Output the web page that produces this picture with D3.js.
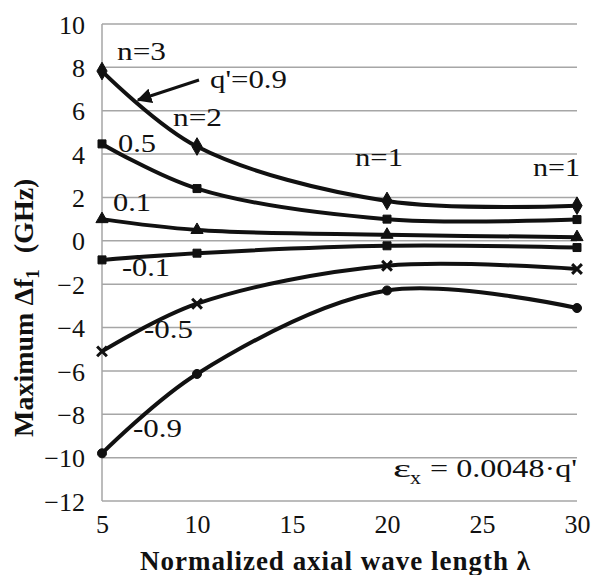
<!DOCTYPE html>
<html><head><meta charset="utf-8">
<script src="https://cdn.jsdelivr.net/npm/d3@7"></script>
<style>body{margin:0;background:#fff}svg{display:block}</style>
</head><body>
<svg id="c" width="593" height="575"></svg>
<script>
const xValues = [5, 10, 20, 30];
const q09 = [7.83, 4.35, 1.84, 1.62];
const q05 = [4.47, 2.41, 1.0, 0.98];
const q01 = [1.0, 0.5, 0.28, 0.17];
const qm01 = [-0.88, -0.57, -0.23, -0.31];
const qm05 = [-5.1, -2.9, -1.15, -1.3];
const qm09 = [-9.8, -6.14, -2.29, -3.1];
const seriesNames = ["0.9", "0.5", "0.1", "-0.1", "-0.5", "-0.9"];
const seriesMarkers = ["diamond", "square", "triangle", "square", "cross", "circle"];
const xTicks = [5, 10, 15, 20, 25, 30];
const yTicks = [-12, -10, -8, -6, -4, -2, 0, 2, 4, 6, 8, 10];

const series = [q09, q05, q01, qm01, qm05, qm09];
const svg = d3.select("#c");
const L = 102, R = 577, T = 24, B = 501;
const x = d3.scaleLinear().domain([5, 30]).range([L, R]);
const y = d3.scaleLinear().domain([-12, 10]).range([B, T]);
const serif = "Liberation Serif";

// grid
svg.append("g").selectAll("line").data(yTicks).join("line")
  .attr("x1", L).attr("x2", R).attr("y1", d => y(d)).attr("y2", d => y(d))
  .attr("stroke", "#a6a6a6").attr("stroke-width", 1.5);
svg.append("line").attr("x1", L).attr("x2", L).attr("y1", T).attr("y2", B)
  .attr("stroke", "#a6a6a6").attr("stroke-width", 1.5);

// axes
const yAxis = d3.axisLeft(y).tickValues(yTicks).tickSize(0).tickPadding(17)
  .tickFormat(d => d < 0 ? "\u2212" + Math.abs(d) : String(d));
const gy = svg.append("g").attr("transform", `translate(${L},0)`).call(yAxis);
gy.attr("font-family", serif).attr("font-size", 26);
gy.select(".domain").remove();
gy.selectAll("text").attr("fill", "#111").attr("dy", "0.35em");

const xAxis = d3.axisBottom(x).tickValues(xTicks).tickSize(0).tickPadding(14);
const gx = svg.append("g").attr("transform", `translate(0,${B})`).call(xAxis);
gx.attr("font-family", serif).attr("font-size", 26);
gx.select(".domain").remove();
gx.selectAll("text").attr("fill", "#111");

// lines
const line = d3.line().x(d => x(d[0])).y(d => y(d[1])).curve(d3.curveCatmullRom.alpha(0.5));
series.forEach((s, i) => {
  const pts = xValues.map((xv, j) => [xv, s[j]]);
  svg.append("path").attr("d", line(pts)).attr("fill", "none")
    .attr("stroke", "#111").attr("stroke-width", 4);
  const symType = {diamond: d3.symbolDiamond, square: d3.symbolSquare, triangle: d3.symbolTriangle,
                   cross: d3.symbolX, circle: d3.symbolCircle}[seriesMarkers[i]];
  const sz = seriesMarkers[i] === "diamond" ? 90 : 64;
  svg.append("g").selectAll("path").data(pts).join("path")
    .attr("transform", d => `translate(${x(d[0])},${y(d[1])})`)
    .attr("d", d3.symbol().type(symType).size(sz))
    .attr("fill", "#111").attr("stroke", "#111").attr("stroke-width", seriesMarkers[i] === "cross" ? 3 : 1);
});

// annotations
const ann = svg.append("g").attr("font-family", serif).attr("font-size", 25).attr("fill", "#111");
function txt(t, xx, yy, w, size) {
  const e = ann.append("text").attr("x", xx).attr("y", yy).text(t);
  if (size) e.attr("font-size", size);
  if (w) e.attr("textLength", w).attr("lengthAdjust", "spacingAndGlyphs");
  return e;
}
txt("n=3", 117, 60, 49);
txt("q'=0.9", 210, 88, 77);
txt("n=2", 173, 126, 49);
txt("0.5", 118, 152, 38);
txt("0.1", 113, 211, 38);
txt("-0.1", 122, 276, 48);
txt("-0.5", 144, 338, 49);
txt("-0.9", 133, 437, 49);
txt("n=1", 355, 166, 48);
txt("n=1", 533, 176, 47);

// arrow
const defs = svg.append("defs");
defs.append("marker").attr("id", "ah").attr("viewBox", "0 0 10 10").attr("refX", 9).attr("refY", 5)
  .attr("markerWidth", 5).attr("markerHeight", 5).attr("orient", "auto-start-reverse")
  .append("path").attr("d", "M0,0 L10,5 L0,10 z").attr("fill", "#111");
svg.append("line").attr("x1", 199).attr("y1", 80).attr("x2", 138).attr("y2", 100)
  .attr("stroke", "#111").attr("stroke-width", 3).attr("marker-end", "url(#ah)");

// epsilon
txt("\u03b5", 393, 477, 18);
txt("x", 410, 484, 11, 18);
txt("= 0.0048\u00b7q'", 430, 477, 147);

// axis titles
const titles = svg.append("g").attr("font-family", serif).attr("font-weight", "bold").attr("fill", "#111");
titles.append("text").attr("x", 140).attr("y", 570).attr("font-size", 27)
  .attr("textLength", 390).attr("lengthAdjust", "spacing")
  .text("Normalized axial wave length  \u03bb");
const yt = titles.append("text").attr("transform", "translate(33,437) rotate(-90)").attr("font-size", 28);
yt.append("tspan").text("Maximum \u0394f");
yt.append("tspan").attr("font-size", 19).attr("dy", 6).text("1");
yt.append("tspan").attr("dy", -6).attr("dx", 16).text("(GHz)");
</script>
</body></html>
